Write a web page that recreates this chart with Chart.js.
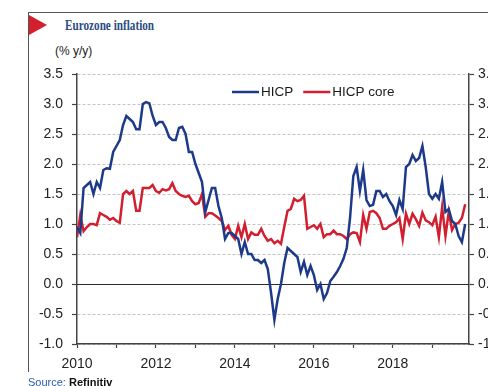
<!DOCTYPE html>
<html>
<head>
<meta charset="utf-8">
<title>Eurozone inflation</title>
<script src="https://cdn.jsdelivr.net/npm/chart.js@4.4.1/dist/chart.umd.min.js"></script>
<style>
  html, body { margin: 0; padding: 0; background: #fff; overflow: hidden; }
  #wrap { position: relative; width: 488px; height: 386px; overflow: hidden; }
  #chart { position: absolute; left: 0; top: 0; }
  .frame-left { position: absolute; left: 28px; top: 12px; width: 1px; height: 360px; background: #555; }
  .frame-top { position: absolute; left: 28px; top: 12px; width: 470px; height: 1px; background: #555; }
  .marker { position: absolute; left: 29px; top: 15px; }
  .title { position: absolute; left: 65px; top: 19px; font-family: 'Liberation Serif', 'Times New Roman', serif;
           font-weight: bold; font-size: 14px; line-height: 14px; color: #2b4d83; white-space: nowrap;
           transform: scaleX(0.8); transform-origin: 0 0; }
  .unit { position: absolute; left: 55px; top: 45px; font-family: 'Liberation Sans', Arial, sans-serif;
          font-size: 12px; line-height: 12px; color: #1a1a1a; white-space: nowrap; }
  .source { position: absolute; left: 28px; top: 376.5px; font-family: 'Liberation Sans', Arial, sans-serif;
            font-size: 11px; line-height: 11px; color: #111; white-space: nowrap; }
  .source .lead { color: #2a5caa; }
  .source b { font-weight: bold; }
</style>
</head>
<body>
<div id="wrap">
  <div class="frame-left"></div>
  <div class="frame-top"></div>
  <svg class="marker" width="20" height="21" viewBox="0 0 20 21"><polygon points="0,0 18,10 0,20" fill="#d41f2e"/></svg>
  <div class="title">Eurozone inflation</div>
  <div class="unit">(% y/y)</div>
  <canvas id="chart" width="488" height="386"></canvas>
  <div class="source"><span class="lead">Source:</span> <b>Refinitiv</b></div>
</div>
<script>
// Monthly annual rates, January 2010 to November 2019
const startYear = 2010;

const hicp = [
  0.95, 0.85, 1.6, 1.65, 1.7, 1.5, 1.7, 1.6, 1.9, 1.93, 1.92, 2.2,
  2.3, 2.4, 2.65, 2.8, 2.75, 2.7, 2.58, 2.58, 3.0, 3.03, 3.01, 2.8,
  2.65, 2.7, 2.7, 2.6, 2.45, 2.4, 2.4, 2.6, 2.62, 2.5, 2.2, 2.2,
  2.0, 1.85, 1.7, 1.2, 1.4, 1.6, 1.6, 1.3, 1.1, 0.75, 0.85, 0.85,
  0.8, 0.75, 0.5, 0.7, 0.5, 0.5, 0.4, 0.4, 0.35, 0.4, 0.25, -0.15,
  -0.6, -0.25, 0.0, 0.35, 0.6, 0.55, 0.5, 0.45, 0.2, 0.37, 0.15, 0.3,
  0.15, -0.1, 0.0, -0.25, -0.15, 0.05, 0.12, 0.2, 0.3, 0.42, 0.6, 1.1,
  1.8, 1.95, 1.55, 1.9, 1.4, 1.3, 1.32, 1.55, 1.55, 1.45, 1.5, 1.38,
  1.3, 1.15, 1.4, 1.25, 1.95, 2.0, 2.15, 2.05, 2.1, 2.3, 1.95, 1.5,
  1.42, 1.5, 1.42, 1.7, 1.2, 1.25, 1.05, 1.0, 0.8, 0.7, 1.0
];

const hicpCore = [
  0.78, 1.15, 0.88, 0.95, 1.0, 1.0, 0.98, 1.18, 1.15, 1.12, 1.07, 1.1,
  1.05, 1.02, 1.5, 1.55, 1.5, 1.55, 1.22, 1.22, 1.6, 1.6, 1.6, 1.65,
  1.55, 1.52, 1.58, 1.56, 1.58, 1.68, 1.55, 1.5, 1.47, 1.45, 1.47, 1.38,
  1.33, 1.35, 1.5, 1.12, 1.18, 1.18, 1.14, 1.1, 1.05, 0.9, 0.97, 0.82,
  0.75, 0.97, 0.78, 1.0, 0.75, 0.86, 0.82, 0.82, 0.92, 0.8, 0.72, 0.75,
  0.68, 0.72, 0.67, 0.95, 1.22, 1.25, 1.42, 1.38, 1.4, 1.47, 0.92, 0.95,
  0.98, 0.92, 1.0, 0.78, 0.83, 0.83, 0.89, 0.83, 0.83, 0.8, 0.75, 0.83,
  0.86, 0.85, 0.7, 1.15, 0.92, 1.2, 1.22, 1.18, 1.1, 0.92, 0.92, 0.97,
  1.0, 1.03, 1.1, 0.75, 1.17, 1.0, 1.17, 1.08, 0.97, 1.19, 1.06, 1.03,
  0.98, 1.12, 0.78, 1.28, 0.8, 1.2, 0.9, 1.0, 1.02, 1.1, 1.33
];

const seriesNames = ['HICP', 'HICP core'];
const seriesColors = ['#1d3a8a', '#d21f2f'];

const yTicks = [-1.0, -0.5, 0.0, 0.5, 1.0, 1.5, 2.0, 2.5, 3.0, 3.5];
const xTickYears = [2010, 2011, 2012, 2013, 2014, 2015, 2016, 2017, 2018, 2019];
const xTickLabels = ['2010', '', '2012', '', '2014', '', '2016', '', '2018', ''];

const FONT = "'Liberation Sans', Arial, sans-serif";
Chart.defaults.font.family = FONT;

const toPoints = arr => arr.map((v, i) => ({ x: startYear + i / 12, y: v }));

// solid line along zero, under the series
const zeroLine = {
  id: 'zeroLine',
  beforeDatasetsDraw(chart) {
    const { ctx, chartArea, scales } = chart;
    const y = Math.round(scales.y.getPixelForValue(0)) + 0.5;
    ctx.save();
    ctx.strokeStyle = '#2a2a2a';
    ctx.lineWidth = 1.2;
    ctx.beginPath();
    ctx.moveTo(chartArea.left, y);
    ctx.lineTo(chartArea.right, y);
    ctx.stroke();
    ctx.restore();
  }
};

// legend drawn inside the plot, top centre
const inlineLegend = {
  id: 'inlineLegend',
  afterDatasetsDraw(chart) {
    const { ctx, chartArea } = chart;
    const y = chartArea.top + 18;
    let x = chartArea.left + 155;
    ctx.save();
    ctx.font = '13.5px ' + FONT;
    ctx.textBaseline = 'middle';
    chart.data.datasets.forEach(ds => {
      ctx.strokeStyle = ds.borderColor;
      ctx.lineWidth = 2.5;
      ctx.beginPath();
      ctx.moveTo(x, y);
      ctx.lineTo(x + 27, y);
      ctx.stroke();
      ctx.fillStyle = '#1a1a1a';
      ctx.fillText(ds.label, x + 29, y + 0.5);
      x += 29 + ctx.measureText(ds.label).width + 10;
    });
    ctx.restore();
  }
};

const yAxisCommon = {
  min: -1,
  max: 3.5,
  afterBuildTicks: s => { s.ticks = yTicks.map(v => ({ value: v })); },
  ticks: {
    font: { size: 14 },
    color: '#222',
    callback: v => v.toFixed(1)
  }
};

new Chart(document.getElementById('chart'), {
  type: 'line',
  data: {
    datasets: [
      { label: seriesNames[0], data: toPoints(hicp), borderColor: seriesColors[0] },
      { label: seriesNames[1], data: toPoints(hicpCore), borderColor: seriesColors[1] }
    ].map(d => Object.assign(d, { borderWidth: 2.5, pointRadius: 0, tension: 0, fill: false, yAxisID: 'y' }))
  },
  options: {
    responsive: false,
    animation: false,
    layout: { padding: { top: 74, left: 0, right: 0, bottom: 0 } },
    plugins: { legend: { display: false }, tooltip: { enabled: false } },
    scales: {
      x: {
        type: 'linear',
        min: 2010,
        max: 2019.93,
        afterBuildTicks: s => { s.ticks = xTickYears.map(v => ({ value: v })); },
        afterFit: s => { s.height = 42; },
        grid: { drawOnChartArea: false, drawTicks: true, tickLength: 4, tickColor: '#444', tickWidth: 1.2 },
        border: { color: '#444', width: 1.5 },
        ticks: {
          autoSkip: false, maxRotation: 0, padding: 8,
          font: { size: 14 }, color: '#222',
          callback: v => xTickLabels[xTickYears.indexOf(v)] || ''
        }
      },
      y: Object.assign({}, yAxisCommon, {
        position: 'left',
        afterFit: s => { s.width = 77; },
        grid: {
          color: c => (c.tick && c.tick.value === 0) ? 'rgba(0,0,0,0)' : '#c4c4c4',
          lineWidth: 1,
          tickLength: 5, tickColor: '#444', tickWidth: 1.2, tickBorderDash: []
        },
        border: { color: '#444', width: 1.5, dash: [3, 2] },
        ticks: Object.assign({}, yAxisCommon.ticks, { padding: 9 })
      }),
      y2: Object.assign({}, yAxisCommon, {
        position: 'right',
        afterFit: s => { s.width = 19; },
        grid: { drawOnChartArea: false, tickLength: 5, tickColor: '#444', tickWidth: 1.2 },
        border: { color: '#444', width: 1.5 },
        ticks: Object.assign({}, yAxisCommon.ticks, { padding: 4 })
      })
    }
  },
  plugins: [zeroLine, inlineLegend]
});
</script>
</body>
</html>
